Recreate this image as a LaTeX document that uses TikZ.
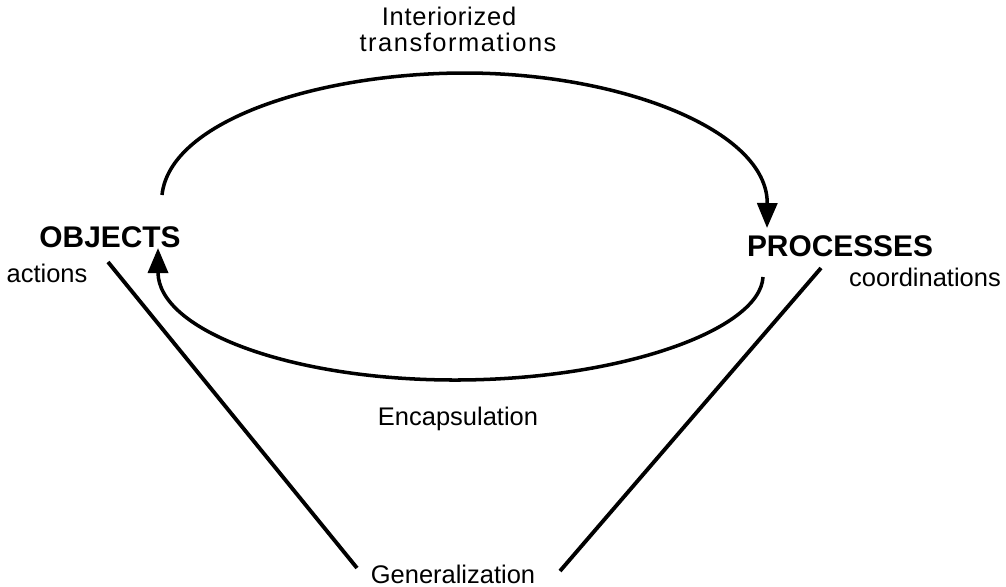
\documentclass[tikz,border=0pt]{standalone}
\usepackage{fontspec}
\setmainfont{Liberation Sans}
\usetikzlibrary{arrows.meta}

\begin{document}
\begin{tikzpicture}[x=0.02cm, y=-0.02cm,
    every node/.style={align=center, inner sep=0pt, anchor=base},
    bigLabel/.style={font=\fontsize{17}{20}\selectfont\bfseries},
    smallLabel/.style={font=\fontsize{14.5}{17}\selectfont},
    cycleArrow/.style={line width=2pt, -{Triangle[width=0.4cm, length=0.5cm]}},
    sideLine/.style={line width=2.2pt}
  ]
  \useasboundingbox (0,0) rectangle (1006,586);

  % the two stages
  \node[bigLabel] (objects) at (110,247) {OBJECTS};
  \node[bigLabel] (processes) at (840,256) {PROCESSES};
  \node[smallLabel] (actions) at (47,282) {actions};
  \node[smallLabel] (coord) at (925,286) {coordinations};

  % labels of the transitions
  \node[smallLabel] (interior) at (449,25) {\addfontfeature{LetterSpace=3}Interiorized};
  \node[smallLabel] (transf) at (458,51) {\addfontfeature{LetterSpace=6}transformations};
  \node[smallLabel] (encaps) at (458,425) {Encapsulation};
  \node[smallLabel] (general) at (453,583) {Generalization};

  % ends of the connectors
  \coordinate (upStart) at (162,195);
  \coordinate (upTop) at (465,73);
  \coordinate (upEnd) at (767,228);
  \coordinate (lowStart) at (763,277);
  \coordinate (lowBottom) at (455,380);
  \coordinate (lowEnd) at (158,248);
  \coordinate (leftTop) at (108,262);
  \coordinate (leftEnd) at (357,568);
  \coordinate (rightTop) at (821,268);
  \coordinate (rightEnd) at (560,571);

  % cycle between objects and processes
  \draw[cycleArrow] (upStart) .. controls (170,120) and (320,73) .. (upTop)
    .. controls (620,73) and (768,130) .. (upEnd);
  \draw[cycleArrow] (lowStart) .. controls (760,330) and (620,380) .. (lowBottom)
    .. controls (290,380) and (158,330) .. (lowEnd);

  % generalization
  \draw[sideLine] (leftTop) -- (leftEnd);
  \draw[sideLine] (rightTop) -- (rightEnd);
\end{tikzpicture}
\end{document}
